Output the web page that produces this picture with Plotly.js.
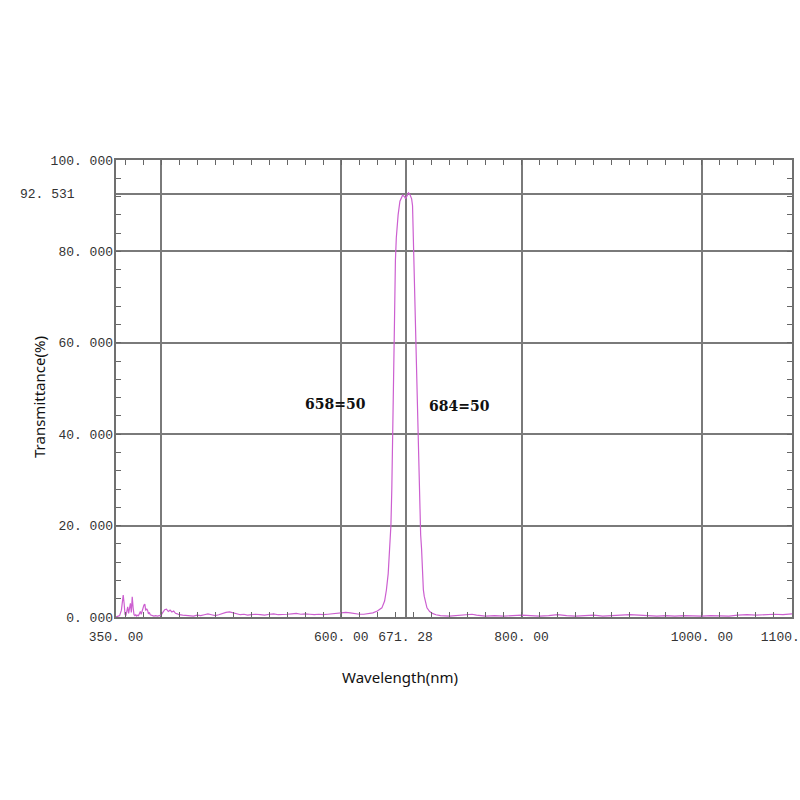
<!DOCTYPE html>
<html>
<head>
<meta charset="utf-8">
<script src="https://cdn.plot.ly/plotly-3.0.1.min.js"></script>
<style>html,body{margin:0;padding:0;background:#fff}#chart{width:800px;height:800px}</style>
</head>
<body>
<div id="chart"></div>
<script>
// Wavelength (nm) and transmittance (%)
const wavelength = [350,352,354,356,357,358,359,360,361,362,363,364,365,366,367,368,369,370,371,372,373,374,375,376,377,378,379,380,381,382,383,384,385,386,387,388,389,390,392,394,396,398,400,
402,404,406,408,410,412,414,416,418,420,424,428,432,436,440,444,448,452,456,460,464,468,472,476,480,484,488,492,496,500,505,510,515,520,525,530,535,540,545,550,555,560,565,570,575,580,585,590,595,600,605,610,615,620,625,630,635,640,643,645,648,650,652,654,655,656,657,658,659,660,661,663,665,668,670,671.3,673,674.5,676,678,679,680,681,682,683,684,685,686,687,688,689,690,691,692,693,695,698,701,705,710,720,730,740,745,750,760,770,780,790,800,810,820,830,840,850,860,870,880,890,900,910,920,930,940,950,960,970,980,990,1000,1010,1020,1030,1040,1050,1060,1070,1080,1090,1100];
const transmittance = [0,0.2,0.3,1.5,3.5,4.8,3.0,0.6,0.3,1.5,2.2,0.8,1.8,3.0,1.0,4.4,2.0,0.5,0.3,0.5,0.2,0.4,0.3,0.8,1.2,0.6,1.5,2.0,2.6,2.8,1.4,1.8,1.5,0.7,1.0,0.5,0.4,0.3,0.2,0.3,0.2,0.3,0.4,
1.0,1.6,1.7,1.2,1.5,1.1,1.3,0.8,0.7,0.5,0.4,0.3,0.3,0.2,0.4,0.3,0.5,0.7,0.5,0.3,0.5,0.8,1.0,1.1,0.9,0.6,0.5,0.6,0.4,0.5,0.6,0.5,0.4,0.6,0.7,0.5,0.5,0.6,0.7,0.8,0.6,0.7,0.6,0.5,0.6,0.5,0.6,0.7,0.8,0.9,1.0,0.9,0.7,0.6,0.6,0.7,0.9,1.3,1.7,2.0,3.5,5.9,9.5,15,20,28,38,50,65,78,83,88,91,92.3,92.0,91.5,92.4,92.8,92.5,91.5,90,82,75,68,59,50,41,32,25,18,15,10,6,4.5,3.5,2,1.2,0.8,0.5,0.3,0.2,0.3,0.4,0.6,0.4,0.2,0.3,0.2,0.3,0.4,0.3,0.2,0.3,0.5,0.3,0.2,0.3,0.4,0.2,0.3,0.4,0.5,0.4,0.3,0.2,0.3,0.2,0.3,0.2,0.2,0.3,0.2,0.2,0.4,0.5,0.4,0.5,0.6,0.5,0.7];

const xTickVals = [350,600,671.28,800,1000,1100];
const xTickText = ['350. 00','600. 00','671. 28','800. 00','1000. 00','1100. 00'];
const xGridVals = [400,600,671.28,800,1000];
const yTickVals = [0,20,40,60,80,100];
const yTickText = ['0. 000','20. 000','40. 000','60. 000','80. 000','100. 000'];
const yGridVals = [20,40,60,80,92.531];
const peakValue = [92.531];
const peakLabel = ['92. 531'];
const bandLabels = ['658=50','684=50'];
const xTitle = 'Wavelength(nm)';
const yTitle = 'Transmittance(%)';

const tickFont = {family:'Liberation Mono, DejaVu Sans Mono, monospace', size:13, color:'#333'};
const titleFont = {family:'Noto Sans, sans-serif', size:15, color:'#111'};
const bandFont = {family:'DejaVu Serif, Liberation Serif, serif', size:14, color:'#111'};
const gridColor = '#7a7a7a';
const xr = [350,1100], yr = [0,100];

const traces = [
  {x:wavelength, y:transmittance, type:'scatter', mode:'lines', line:{color:'#cc5fd0', width:1.2}, hoverinfo:'skip', showlegend:false},
  {x:[], y:[], xaxis:'x2', yaxis:'y2', type:'scatter', showlegend:false},
  {x:[], y:[], xaxis:'x3', yaxis:'y3', type:'scatter', showlegend:false}
];

const layout = {
  width:800, height:800,
  margin:{l:116, r:8, t:160, b:183},
  paper_bgcolor:'#fff', plot_bgcolor:'#fff',
  showlegend:false,
  xaxis:{range:xr, tickmode:'linear', tick0:0, dtick:20, ticks:'inside', ticklen:5, tickcolor:'#666',
         showticklabels:false, showgrid:false, zeroline:false, showline:true, mirror:'ticks', linecolor:'#707070', linewidth:2},
  yaxis:{range:yr, tickmode:'linear', tick0:0, dtick:4, ticks:'inside', ticklen:5, tickcolor:'#666',
         showticklabels:false, showgrid:false, zeroline:false, showline:true, mirror:'ticks', linecolor:'#707070', linewidth:2},
  xaxis2:{range:xr, overlaying:'x', anchor:'y', side:'bottom', tickmode:'array', tickvals:xTickVals, ticktext:xTickText,
          ticks:'', showgrid:false, zeroline:false, showline:false, tickfont:tickFont, ticklabelstandoff:10, ticklabeloverflow:'allow'},
  yaxis2:{range:yr, overlaying:'y', anchor:'x', side:'left', tickmode:'array', tickvals:yTickVals, ticktext:yTickText,
          ticks:'', showgrid:false, zeroline:false, showline:false, tickfont:tickFont, ticklabelstandoff:2, ticklabeloverflow:'allow'},
  xaxis3:{range:xr, overlaying:'x', anchor:'y', tickmode:'array', tickvals:xGridVals, showticklabels:false, ticks:'',
          showgrid:true, gridcolor:gridColor, gridwidth:2, zeroline:false, showline:false},
  yaxis3:{range:yr, overlaying:'y', anchor:'x', tickmode:'array', tickvals:yGridVals, showticklabels:false, ticks:'',
          showgrid:true, gridcolor:gridColor, gridwidth:2, zeroline:false, showline:false},
  annotations:[
    {xref:'paper', yref:'y', x:(77-116)/676, y:peakValue[0], text:peakLabel[0], showarrow:false, xanchor:'right', yanchor:'middle', font:tickFont},
    {xref:'x', yref:'y', x:594, y:46.6, text:'<b>'+bandLabels[0]+'</b>', showarrow:false, font:bandFont},
    {xref:'x', yref:'y', x:731, y:46.2, text:'<b>'+bandLabels[1]+'</b>', showarrow:false, font:bandFont},
    {xref:'paper', yref:'paper', x:(400-116)/676, y:-(677-617)/457, text:xTitle, showarrow:false, xanchor:'center', yanchor:'middle', font:titleFont},
    {xref:'paper', yref:'paper', x:(39-116)/676, y:(617-397)/457, text:yTitle, showarrow:false, textangle:-90, xanchor:'center', yanchor:'middle', font:titleFont}
  ]
};

Plotly.newPlot('chart', traces, layout, {staticPlot:true, displayModeBar:false});
</script>
</body>
</html>
